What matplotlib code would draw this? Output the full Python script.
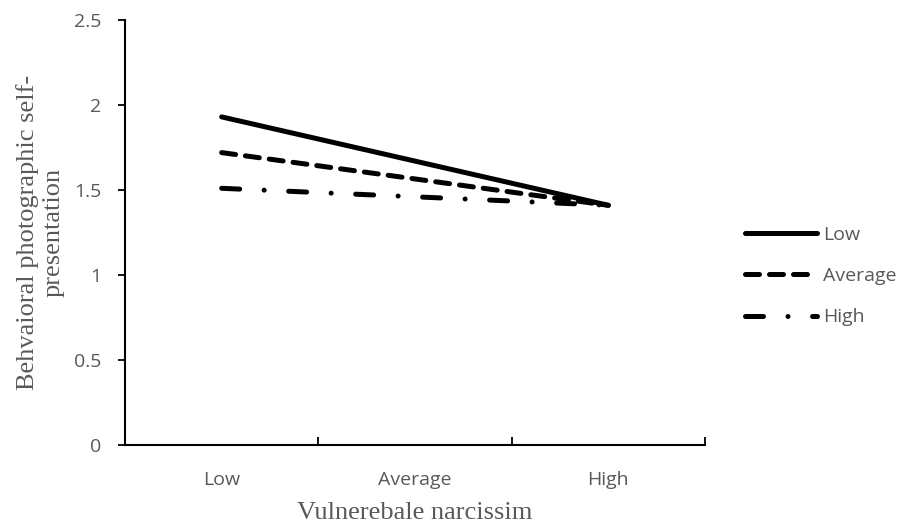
import matplotlib
matplotlib.use("Agg")
import matplotlib.pyplot as plt

categories = ["Low", "Average", "High"]
series_names = ["Low", "Average", "High"]
# values at Low and High vulnerable narcissism
x_points = ["Low", "High"]
low_vals = [1.93, 1.41]
avg_vals = [1.72, 1.41]
high_vals = [1.51, 1.41]
yticks = [0, 0.5, 1, 1.5, 2, 2.5]

W, H = 904, 527
fig = plt.figure(figsize=(W / 100, H / 100), dpi=100)
ax = fig.add_axes([125 / W, 1 - 445 / H, (705 - 125) / W, (445 - 20) / H])

grey = "#595959"
tickfont = "Open Sans"
serif = "Liberation Serif"
tfs = 14

xpos = [categories.index(c) for c in x_points]
lw = 3.6
styles = [
    dict(linestyle="-"),
    dict(linestyle=(0, (2.8, 2.0))),
    dict(linestyle=(0, (3.6, 4.9, 0.01, 4.9))),
]
handles = []
for vals, name, st in zip([low_vals, avg_vals, high_vals], series_names, styles):
    ln, = ax.plot(xpos, vals, color="black", lw=lw, solid_capstyle="round",
                  dash_capstyle="round", label=name, **st)
    handles.append(ln)

ax.set_xlim(-0.5, len(categories) - 0.5)
ax.set_ylim(0, 2.5)
ax.set_yticks(yticks)
ax.set_yticklabels([f"{v:g}" for v in yticks], fontsize=tfs, color=grey, family=tickfont)
ax.set_xticks([i - 0.5 for i in range(len(categories) + 1)])
ax.set_xticklabels([])
ax.set_xticks(range(len(categories)), minor=True)
ax.set_xticklabels(categories, minor=True, fontsize=tfs, color=grey, family=tickfont)
ax.tick_params(axis="x", which="major", direction="in", length=6, width=1.3, color="black")
ax.tick_params(axis="x", which="minor", length=0, pad=19)
ax.tick_params(axis="y", direction="out", length=5, width=1.3, color="black", pad=12)

for s in ["top", "right"]:
    ax.spines[s].set_visible(False)
for s in ["left", "bottom"]:
    ax.spines[s].set_linewidth(1.5)
    ax.spines[s].set_color("black")

ax.set_xlabel("Vulnerebale narcissim", fontsize=19, color=grey, family=serif, labelpad=9)
ax.set_ylabel("Behvaioral photographic self-\npresentation", fontsize=19, color=grey,
              family=serif, labelpad=7, linespacing=1.2)

leg = fig.legend(handles=handles, loc="center left", bbox_to_anchor=(728 / W, 1 - 276 / H),
                 frameon=False, handlelength=3.7, handletextpad=0.3, labelspacing=1.2,
                 prop={"family": tickfont, "size": tfs})
for t in leg.get_texts():
    t.set_color(grey)

fig.savefig("out.png", dpi=100)
